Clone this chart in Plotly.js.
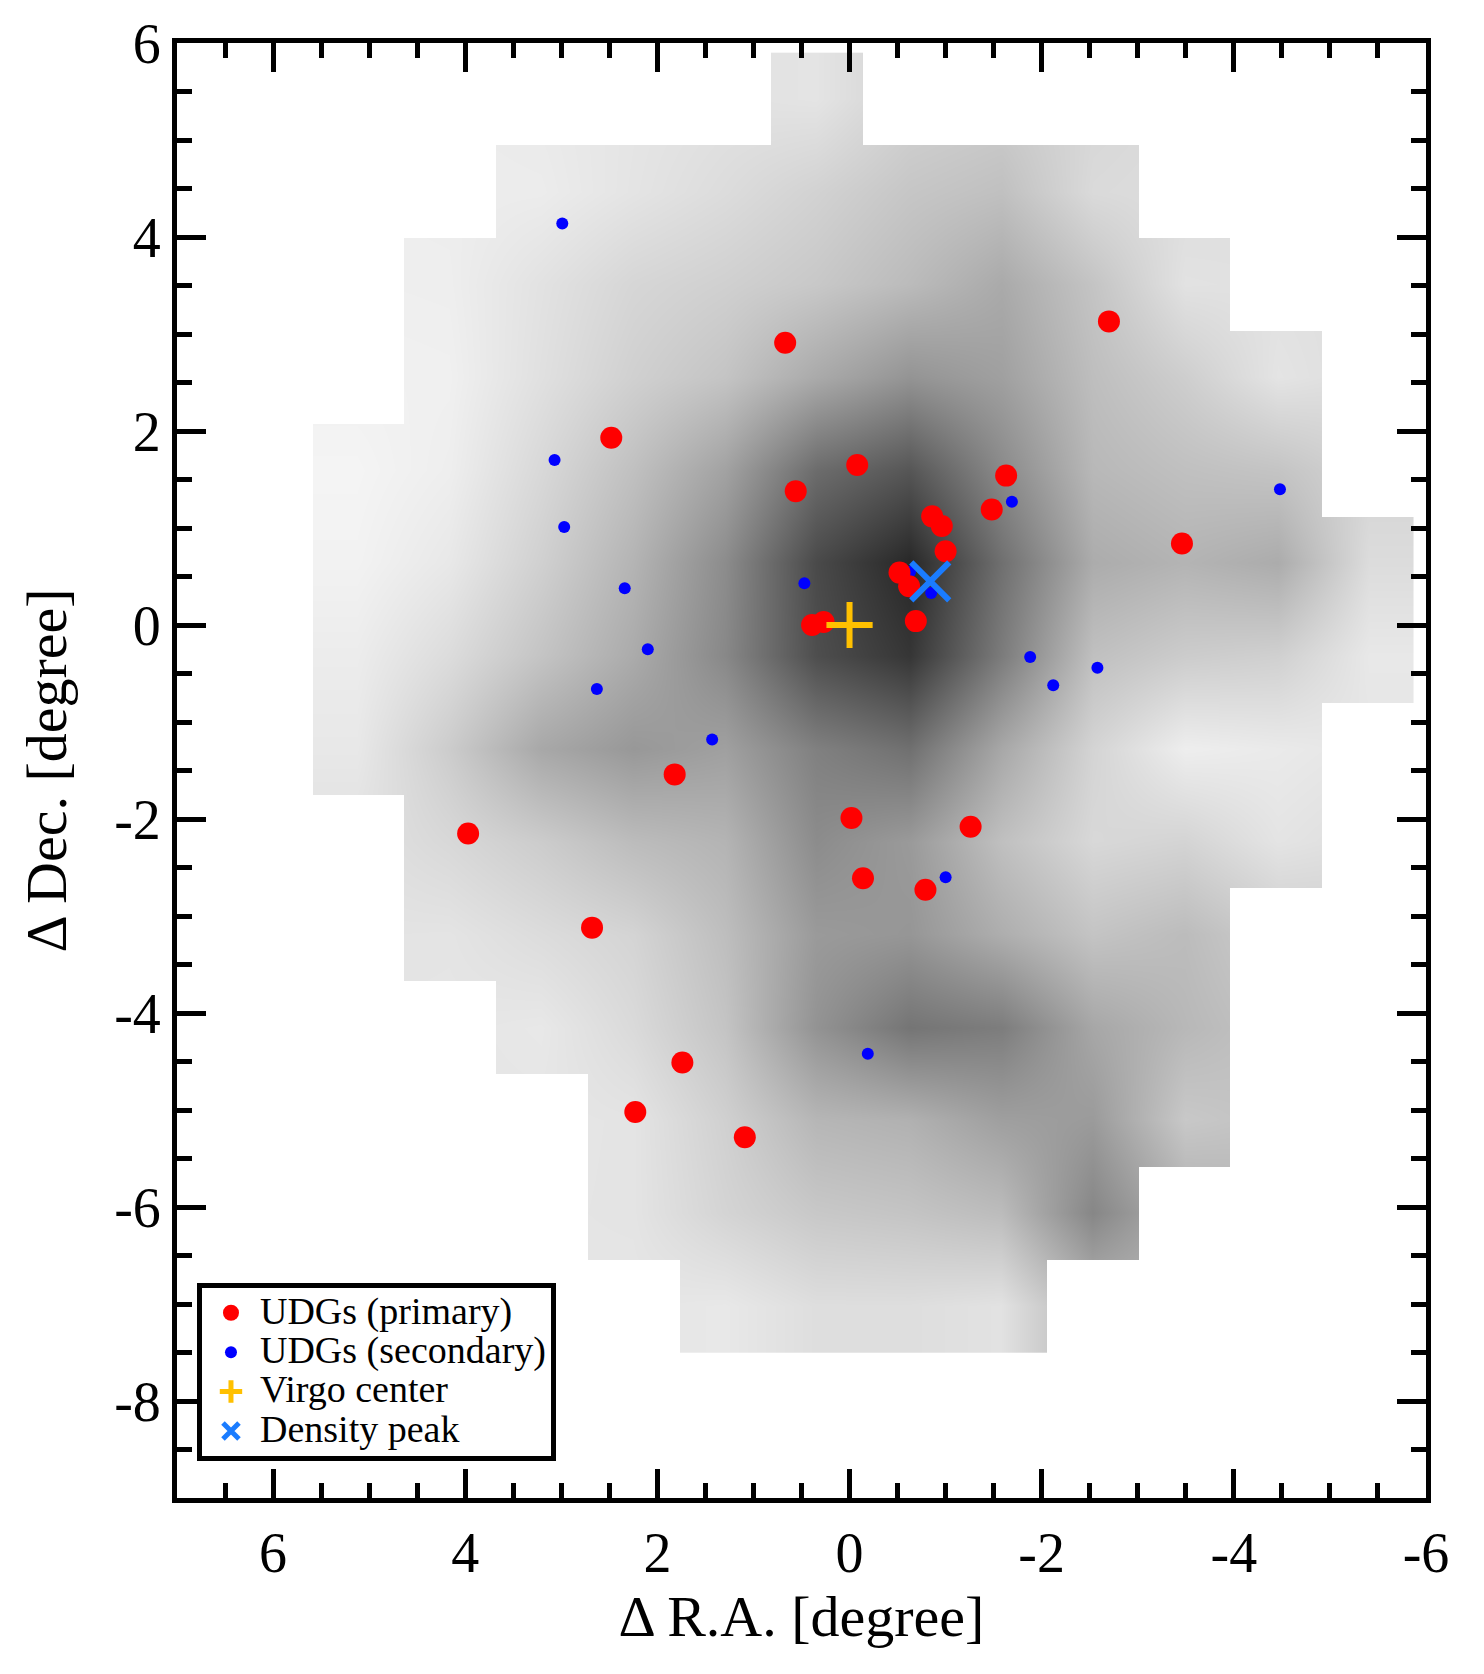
<!DOCTYPE html>
<html>
<head>
<meta charset="utf-8">
<script src="https://cdn.plot.ly/plotly-3.0.1.min.js"></script>
<style>
  html, body { margin: 0; padding: 0; background: #ffffff; }
  #chart { width: 1484px; height: 1674px; }
</style>
</head>
<body>
<div id="chart"></div>
<script>
// ---- density map: grid cell centres (degrees) ----
const raCenters  = [5.12, 4.16, 3.21, 2.25, 1.29, 0.34, -0.62, -1.58, -2.53, -3.49, -4.45, -5.40];
const decCenters = [5.42, 4.46, 3.51, 2.55, 1.59, 0.64, -0.32, -1.28, -2.23, -3.19, -4.15, -5.10, -6.06, -7.02];

// relative galaxy density per cell (rows top->bottom, columns east->west); null = outside survey
const density = [
  [null, null, null, null, null,  27, null, null, null, null, null, null],
  [null, null,   19,   27,   35,  45,   57,   63,   37, null, null, null],
  [null,   17,   29,   41,   47,  55,   68,   85,   59,   29, null, null],
  [null,   15,   31,   47,   59,  85,  107,   95,   65,   49,   27, null],
  [  11,   17,   39,   63,   93, 147,  169,  117,   71,   63,   59, null],
  [  13,   23,   47,   75,  115, 181,  215,  143,   83,   75,   83,   35],
  [  19,   35,   59,   84,  119, 177,  201,  131,   63,   51,   47,   23],
  [  23,   51,   87,  103,   95, 127,  143,   87,   43,   17,   21, null],
  [null,   39,   51,   67,   75, 115,  101,   63,   39,   43,   27, null],
  [null,   27,   35,   43,   65, 101,  105,   81,   59,   67, null, null],
  [null, null,   23,   37,   59, 108,  138,  130,   88,   71, null, null],
  [null, null, null,   27,   47,   73,   78,   96,  100,   55, null, null],
  [null, null, null,   27,   43,   55,   59,   67,  120, null, null, null],
  [null, null, null, null,   23,   33,   33,   29, null, null, null, null]
];

// ---- UDGs ----
const primaryRA  = [-2.70, 0.67, 2.48, -0.08, 0.56, -1.63, -1.48, -0.86, -0.96, -3.46, -1.00, -0.52, -0.62,
                    0.39, 0.27, -0.69, 1.82, 3.97, -0.02, -1.26, -0.14, -0.79, 2.68, 1.74, 2.23, 1.09];
const primaryDec = [3.13, 2.91, 1.93, 1.65, 1.38, 1.54, 1.19, 1.12, 1.02, 0.84, 0.76, 0.54, 0.40,
                    0.00, 0.03, 0.04, -1.54, -2.15, -1.99, -2.08, -2.61, -2.73, -3.12, -4.51, -5.02, -5.28];

const secondaryRA  = [2.99, 3.07, 2.97, 2.34, 0.47, 2.10, 2.63, 1.43, -1.69, -4.48, -1.88, -2.12, -2.58, -1.00, -0.19, -0.63, -0.85];
const secondaryDec = [4.14, 1.70, 1.01, 0.38, 0.43, -0.25, -0.66, -1.18, 1.27, 1.40, -0.33, -0.62, -0.44, -2.60, -4.42, 0.55, 0.33];

const virgoCenterRA = [0.0],  virgoCenterDec = [0.0];
const peakRA = [-0.84],       peakDec = [0.45];

// ---- axis ticks ----
const xTickVals = [6, 4, 2, 0, -2, -4, -6];
const xTickText = ['6', '4', '2', '0', '-2', '-4', '-6'];
const yTickVals = [6, 4, 2, 0, -2, -4, -6, -8];
const yTickText = ['6', '4', '2', '0', '-2', '-4', '-6', '-8'];

// build heatmap arrays in ascending order
const xAsc = raCenters.slice().reverse();
const yAsc = decCenters.slice().reverse();
const zAsc = density.slice().reverse().map(r => r.slice().reverse());

// white mask over cells outside the survey, with one extra ring of cells around the grid
const dxCell = xAsc[1] - xAsc[0], dyCell = yAsc[1] - yAsc[0];
const maskX = [xAsc[0] - dxCell].concat(xAsc, [xAsc[xAsc.length - 1] + dxCell]);
const maskY = [yAsc[0] - dyCell].concat(yAsc, [yAsc[yAsc.length - 1] + dyCell]);
const maskZ = maskY.map((_, j) => maskX.map((__, i) => {
  const r = j - 1, c = i - 1;
  if (r < 0 || c < 0 || r >= zAsc.length || c >= zAsc[0].length) return 1;
  return zAsc[r][c] === null ? 1 : null;
}));

const FONT = 'Liberation Serif, Times New Roman, serif';
const legendName = t => '<span style="font-size:38px">' + t + '</span>';

const traces = [
  {
    type: 'heatmap', x: xAsc, y: yAsc, z: zAsc,
    zsmooth: 'best', connectgaps: true,
    zmin: 0, zmax: 255,
    colorscale: [[0, '#ffffff'], [1, '#000000']],
    showscale: false, hoverinfo: 'skip', showlegend: false
  },
  {
    type: 'heatmap', x: maskX, y: maskY, z: maskZ,
    zsmooth: false, connectgaps: false,
    zmin: 0, zmax: 1,
    colorscale: [[0, '#ffffff'], [1, '#ffffff']],
    showscale: false, hoverinfo: 'skip', showlegend: false
  },
  {
    type: 'scatter', mode: 'markers', name: legendName('UDGs (secondary)'), legendrank: 2,
    x: secondaryRA, y: secondaryDec,
    marker: { color: '#0000ff', size: 12, line: { width: 0 } }
  },
  {
    type: 'scatter', mode: 'markers', name: legendName('UDGs (primary)'), legendrank: 1,
    x: primaryRA, y: primaryDec,
    marker: { color: '#ff0000', size: 22, line: { width: 0 } }
  },
  {
    type: 'scatter', mode: 'markers', name: legendName('Virgo center'), legendrank: 3,
    x: virgoCenterRA, y: virgoCenterDec,
    marker: { symbol: 'cross-thin', size: 33, color: '#ffc000', line: { color: '#ffc000', width: 6 } }
  },
  {
    type: 'scatter', mode: 'markers', name: legendName('Density peak'), legendrank: 4,
    x: peakRA, y: peakDec,
    marker: { symbol: 'x-thin', size: 38, color: '#1a7cff', line: { color: '#1a7cff', width: 6 } }
  }
];

const axisCommon = {
  showgrid: false, zeroline: false,
  showline: true, linecolor: '#000000', linewidth: 5, mirror: 'allticks',
  ticks: 'inside', ticklen: 29, tickwidth: 5, tickcolor: '#000000',
  tickmode: 'array',
  tickfont: { family: FONT, size: 56, color: '#000000' },
  minor: { tickmode: 'linear', tick0: 0, dtick: 0.5, ticks: 'inside', ticklen: 15, tickwidth: 5, tickcolor: '#000000', showgrid: false }
};

const layout = {
  width: 1484, height: 1674,
  margin: { l: 177, r: 58, t: 43, b: 176 },
  paper_bgcolor: '#ffffff', plot_bgcolor: '#ffffff',
  font: { family: FONT, color: '#000000' },
  showlegend: true,
  xaxis: Object.assign({}, axisCommon, {
    range: [7, -6], autorange: false,
    tickvals: xTickVals, ticktext: xTickText,
    ticklabelstandoff: 2,
    title: { text: 'Δ R.A. [degree]', font: { family: FONT, size: 58, color: '#000000' }, standoff: 6 }
  }),
  yaxis: Object.assign({}, axisCommon, {
    range: [-9, 6], autorange: false,
    tickvals: yTickVals, ticktext: yTickText,
    ticklabelstandoff: 0,
    title: { text: 'Δ Dec. [degree]', font: { family: FONT, size: 58, color: '#000000' }, standoff: 30 }
  }),
  legend: {
    x: 0.016, y: 0.0254, xanchor: 'left', yanchor: 'bottom',
    bgcolor: '#ffffff', bordercolor: '#000000', borderwidth: 5,
    font: { family: FONT, size: 28, color: '#000000' },
    itemsizing: 'trace', itemwidth: 48
  }
};

Plotly.newPlot('chart', traces, layout, { staticPlot: true, displayModeBar: false });
</script>
</body>
</html>
